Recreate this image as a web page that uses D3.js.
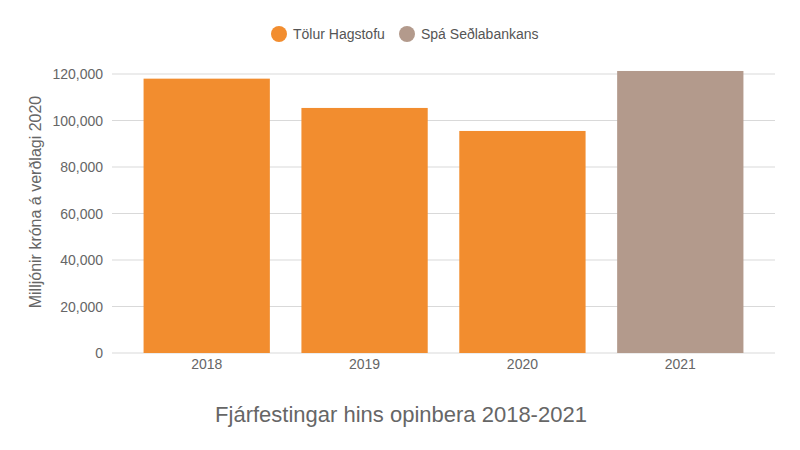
<!DOCTYPE html>
<html><head><meta charset="utf-8">
<script src="https://cdn.jsdelivr.net/npm/d3@7"></script>
<style>body{margin:0;background:#fff}text{font-family:"Liberation Sans",Arial,sans-serif}</style>
</head><body><svg id="c" width="800" height="450"></svg>
<script>
const categories=["2018","2019","2020","2021"];
const values=[118000,105400,95500,121300];
const seriesOf=["Tölur Hagstofu","Tölur Hagstofu","Tölur Hagstofu","Spá Seðlabankans"];
const legendNames=["Tölur Hagstofu","Spá Seðlabankans"];
const colors={"Tölur Hagstofu":"#F28D2F","Spá Seðlabankans":"#B39A8C"};
const yTicks=[0,20000,40000,60000,80000,100000,120000];
const svg=d3.select("#c");
const x=d3.scaleBand().domain(categories).range([112,775]).paddingInner(0.2).paddingOuter(0.2);
const y=d3.scaleLinear().domain([0,120000]).range([353,74]);
const g=svg.append("g");
g.selectAll("line.grid").data(yTicks).join("line").attr("x1",112).attr("x2",775)
 .attr("y1",d=>y(d)).attr("y2",d=>y(d)).attr("stroke","#d9d9d9").attr("stroke-width",1);
g.selectAll("text.yt").data(yTicks).join("text").attr("x",103).attr("y",d=>y(d)+5)
 .attr("text-anchor","end").attr("font-size",14).attr("fill","#666").text(d=>d3.format(",")(d));
g.selectAll("rect").data(values).join("rect").attr("x",(d,i)=>x(categories[i]))
 .attr("width",x.bandwidth()).attr("y",d=>y(d)).attr("height",d=>y(0)-y(d))
 .attr("fill",(d,i)=>colors[seriesOf[i]]);
g.selectAll("text.xt").data(categories).join("text").attr("x",d=>x(d)+x.bandwidth()/2).attr("y",369)
 .attr("text-anchor","middle").attr("font-size",14).attr("fill","#666").text(d=>d);
svg.append("text").attr("transform","translate(41,202) rotate(-90)").attr("text-anchor","middle")
 .attr("font-size",16).attr("fill","#666").text("Milljónir króna á verðlagi 2020");
svg.append("text").attr("x",401).attr("y",422).attr("text-anchor","middle").attr("font-size",22)
 .attr("fill","#666").text("Fjárfestingar hins opinbera 2018-2021");
const lx=[279,407];
legendNames.forEach((n,i)=>{
 svg.append("circle").attr("cx",lx[i]).attr("cy",34).attr("r",8).attr("fill",colors[n]);
 svg.append("text").attr("x",lx[i]+14).attr("y",39).attr("font-size",14).attr("fill","#555").text(n);
});
</script></body></html>
